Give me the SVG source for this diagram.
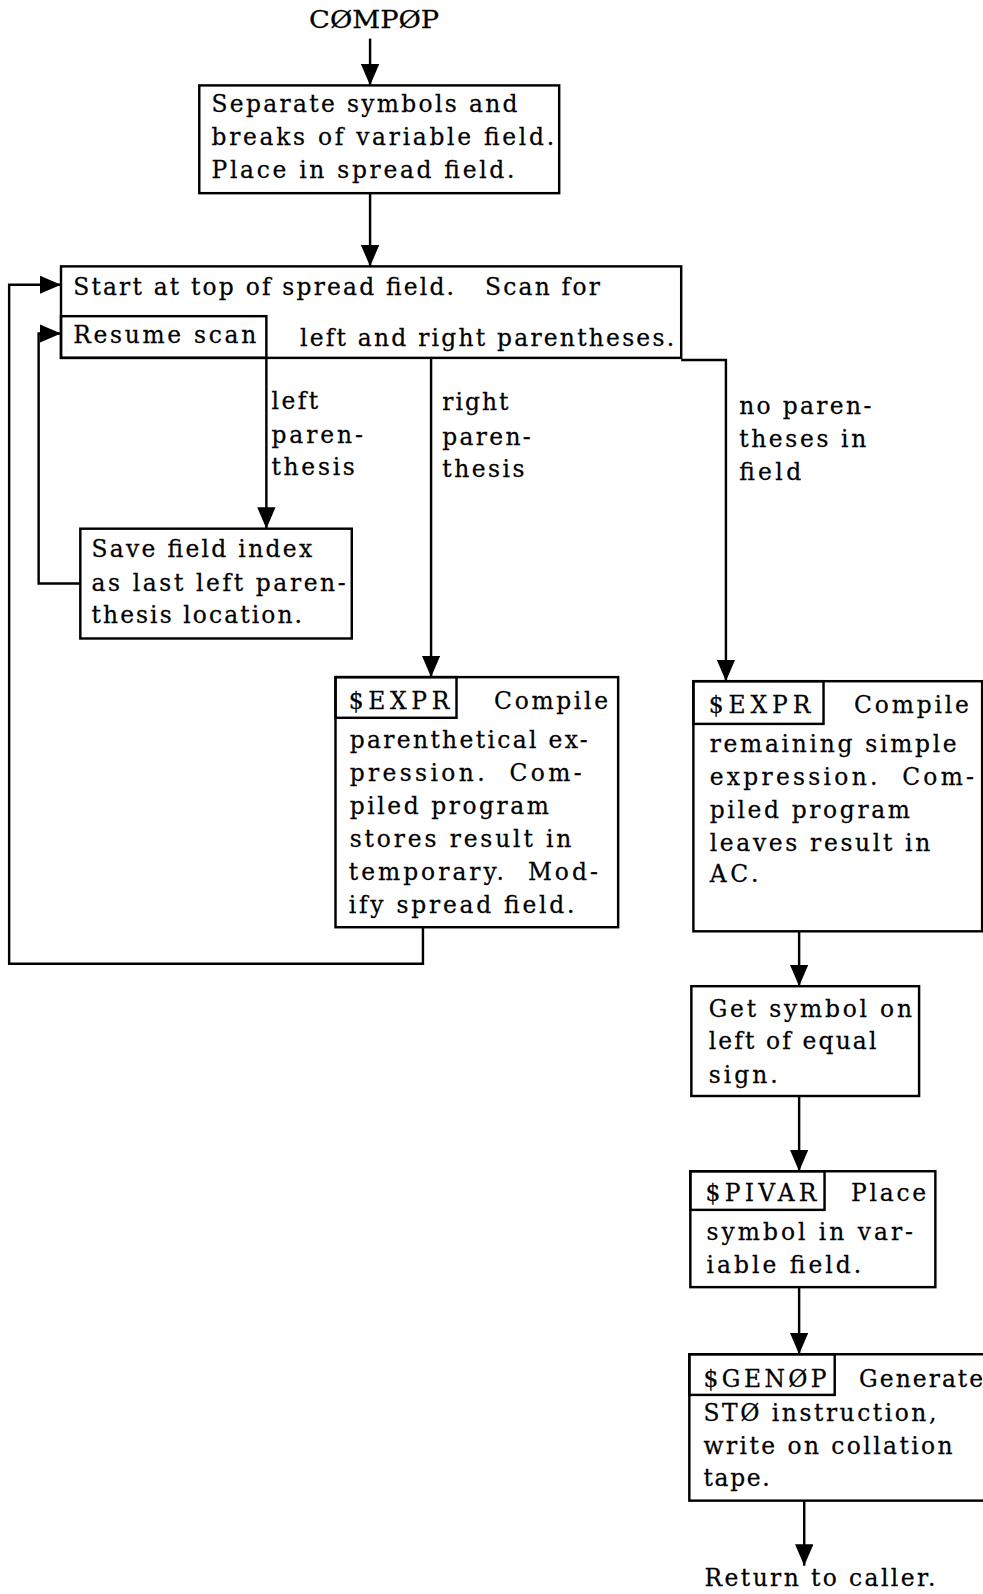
<svg xmlns="http://www.w3.org/2000/svg" width="983" height="1594" viewBox="0 0 983 1594">
<style>
.bg{fill:#ffffff}
.box{fill:none;stroke:#000;stroke-width:2.4}
.t{font-family:"DejaVu Serif","Liberation Serif",serif;font-size:23px;fill:#000;stroke:#000;stroke-width:0.25}
.c{fill:none;stroke:#000;stroke-width:2.4}
</style>
<defs>
<marker id="ah" markerUnits="userSpaceOnUse" markerWidth="21" markerHeight="18" viewBox="0 0 21 18" refX="21" refY="9" orient="auto">
<path d="M0,0 L21,9 L0,18 z" fill="#000"/>
</marker>
</defs>
<rect class="bg" x="0" y="0" width="983" height="1594"/>
<g id="diagram" transform="scale(1.0167)">
<g id="connectors">
<path class="c" d="M364,38 V84" marker-end="url(#ah)"/>
<path class="c" d="M364,190 V262" marker-end="url(#ah)"/>
<path class="c" d="M262,352 V520" marker-end="url(#ah)"/>
<path class="c" d="M424,352 V666" marker-end="url(#ah)"/>
<path class="c" d="M670,354 H714 V670" marker-end="url(#ah)"/>
<path class="c" d="M79,574 H38 V328 H60" marker-end="url(#ah)"/>
<path class="c" d="M416,912 V948 H9 V280 H60" marker-end="url(#ah)"/>
<path class="c" d="M786,916 V970" marker-end="url(#ah)"/>
<path class="c" d="M786,1078 V1152" marker-end="url(#ah)"/>
<path class="c" d="M786,1266 V1332" marker-end="url(#ah)"/>
<path class="c" d="M791,1476 V1540" marker-end="url(#ah)"/>
</g>

<g id="start">
<text class="t" x="304" y="28" textLength="128" lengthAdjust="spacingAndGlyphs">CØMPØP</text>
</g>

<g id="separate">
<rect class="box" x="196" y="84" width="354" height="106"/>
<text class="t" x="208" y="110" textLength="301" lengthAdjust="spacing">Separate symbols and</text>
<text class="t" x="208" y="143" textLength="337" lengthAdjust="spacing">breaks of variable field.</text>
<text class="t" x="208" y="175" textLength="298" lengthAdjust="spacing">Place in spread field.</text>
</g>

<g id="scan">
<rect class="box" x="60" y="262" width="610" height="90"/>
<rect class="box" x="60" y="311" width="202" height="41"/>
<text class="t" x="72" y="290" textLength="518" lengthAdjust="spacing" xml:space="preserve">Start at top of spread field.   Scan for</text>
<text class="t" x="72" y="337" textLength="180" lengthAdjust="spacing">Resume scan</text>
<text class="t" x="295" y="340" textLength="368" lengthAdjust="spacing">left and right parentheses.</text>
</g>

<g id="labels">
<text class="t" x="267" y="402" textLength="46" lengthAdjust="spacing">left</text>
<text class="t" x="267" y="436" textLength="90" lengthAdjust="spacing">paren-</text>
<text class="t" x="267" y="467" textLength="82" lengthAdjust="spacing">thesis</text>
<text class="t" x="435" y="403" textLength="65" lengthAdjust="spacing">right</text>
<text class="t" x="435" y="438" textLength="87" lengthAdjust="spacing">paren-</text>
<text class="t" x="435" y="469" textLength="81" lengthAdjust="spacing">thesis</text>
<text class="t" x="727" y="407" textLength="130" lengthAdjust="spacing">no paren-</text>
<text class="t" x="727" y="440" textLength="125" lengthAdjust="spacing">theses in</text>
<text class="t" x="727" y="472" textLength="61" lengthAdjust="spacing">field</text>
</g>

<g id="save">
<rect class="box" x="79" y="520" width="267" height="108"/>
<text class="t" x="90" y="548" textLength="217" lengthAdjust="spacing">Save field index</text>
<text class="t" x="90" y="581" textLength="250" lengthAdjust="spacing">as last left paren-</text>
<text class="t" x="90" y="613" textLength="207" lengthAdjust="spacing">thesis location.</text>
</g>

<g id="expr1">
<rect class="box" x="330" y="666" width="278" height="246"/>
<rect class="box" x="330" y="666" width="119" height="40"/>
<text class="t" x="343" y="697" textLength="99" lengthAdjust="spacing">$EXPR</text>
<text class="t" x="486" y="697" textLength="112" lengthAdjust="spacing">Compile</text>
<text class="t" x="344" y="736" textLength="234" lengthAdjust="spacing">parenthetical ex-</text>
<text class="t" x="344" y="768" textLength="228" lengthAdjust="spacing" xml:space="preserve">pression.  Com-</text>
<text class="t" x="344" y="801" textLength="196" lengthAdjust="spacing">piled program</text>
<text class="t" x="344" y="833" textLength="218" lengthAdjust="spacing">stores result in</text>
<text class="t" x="343" y="866" textLength="245" lengthAdjust="spacing" xml:space="preserve">temporary.  Mod-</text>
<text class="t" x="343" y="898" textLength="222" lengthAdjust="spacing">ify spread field.</text>
</g>

<g id="expr2">
<rect class="box" x="682" y="670" width="284" height="246"/>
<rect class="box" x="682" y="670" width="128" height="42"/>
<text class="t" x="697" y="701" textLength="100" lengthAdjust="spacing">$EXPR</text>
<text class="t" x="840" y="701" textLength="113" lengthAdjust="spacing">Compile</text>
<text class="t" x="698" y="740" textLength="243" lengthAdjust="spacing">remaining simple</text>
<text class="t" x="698" y="772" textLength="260" lengthAdjust="spacing" xml:space="preserve">expression.  Com-</text>
<text class="t" x="698" y="805" textLength="197" lengthAdjust="spacing">piled program</text>
<text class="t" x="698" y="837" textLength="217" lengthAdjust="spacing">leaves result in</text>
<text class="t" x="698" y="868" textLength="48" lengthAdjust="spacing">AC.</text>
</g>

<g id="getsymbol">
<rect class="box" x="680" y="970" width="224" height="108"/>
<text class="t" x="697" y="1000" textLength="200" lengthAdjust="spacing">Get symbol on</text>
<text class="t" x="697" y="1032" textLength="165" lengthAdjust="spacing">left of equal</text>
<text class="t" x="697" y="1065" textLength="68" lengthAdjust="spacing">sign.</text>
</g>

<g id="pivar">
<rect class="box" x="679" y="1152" width="241" height="114"/>
<rect class="box" x="679" y="1152" width="132" height="38"/>
<text class="t" x="694" y="1181" textLength="109" lengthAdjust="spacing">$PIVAR</text>
<text class="t" x="837" y="1181" textLength="74" lengthAdjust="spacing">Place</text>
<text class="t" x="695" y="1220" textLength="203" lengthAdjust="spacing">symbol in var-</text>
<text class="t" x="695" y="1252" textLength="152" lengthAdjust="spacing">iable field.</text>
</g>

<g id="genop">
<rect class="box" x="678" y="1332" width="320" height="144"/>
<rect class="box" x="678" y="1332" width="143" height="40"/>
<text class="t" x="692" y="1364" textLength="121" lengthAdjust="spacing">$GENØP</text>
<text class="t" x="845" y="1364" textLength="122" lengthAdjust="spacing">Generate</text>
<text class="t" x="692" y="1398" textLength="229" lengthAdjust="spacing">STØ instruction,</text>
<text class="t" x="692" y="1430" textLength="245" lengthAdjust="spacing">write on collation</text>
<text class="t" x="692" y="1462" textLength="65" lengthAdjust="spacing">tape.</text>
</g>

<g id="return">
<text class="t" x="693" y="1560" textLength="227" lengthAdjust="spacing">Return to caller.</text>
</g>
</g>
</svg>
